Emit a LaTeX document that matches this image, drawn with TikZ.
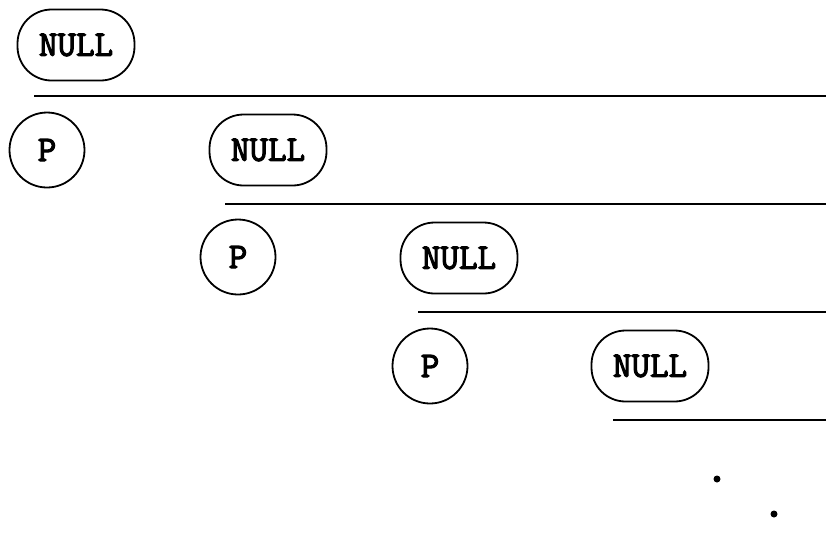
\documentclass[tikz,border=0pt]{standalone}
\usepackage{fontspec}
\newfontfamily\codefont{Latin Modern Mono}[FakeBold=3.2]
\usepackage{tikz}
\usetikzlibrary{positioning}

\tikzset{
  nullbox/.style={draw=black, fill=white, text=black, line width=0.9pt,
    rounded corners=17pt, minimum width=58.5pt, minimum height=35.5pt,
    inner sep=0pt, font=\fontsize{18pt}{20pt}\codefont},
  pnode/.style={circle, draw=black, fill=white, text=black, line width=0.9pt,
    minimum size=37.5pt, inner sep=0pt, font=\fontsize{18pt}{20pt}\codefont},
  rule/.style={line width=0.9pt}
}

\begin{document}
\begin{tikzpicture}[x=0.5pt, y=-0.5pt]
    \useasboundingbox (0,0) rectangle (826,554);

    %first level
    \node (n0) [nullbox] at (76,45) {NULL};%draws first NULL
    \coordinate (a0) at (34,96);
    \coordinate (b0) at (826,96);
    \draw [rule] (a0) -- (b0);%draws first rule

    %second level
    \node (p1) [pnode] at (47,150) {P};%draws P
    \node (n1) [nullbox] at (268,150) {NULL};%draws NULL
    \coordinate (a1) at (225,204);
    \coordinate (b1) at (826,204);
    \draw [rule] (a1) -- (b1);

    %third level
    \node (p2) [pnode] at (238,257) {P};
    \node (n2) [nullbox] at (459,258) {NULL};
    \coordinate (a2) at (418,312);
    \coordinate (b2) at (826,312);
    \draw [rule] (a2) -- (b2);

    %fourth level
    \node (p3) [pnode] at (430,366) {P};
    \node (n3) [nullbox] at (650,366) {NULL};
    \coordinate (a3) at (613,420);
    \coordinate (b3) at (826,420);
    \draw [rule] (a3) -- (b3);

    %dots for the levels below
    \node (d1) [circle, fill=black, inner sep=0pt, minimum size=3.5pt] at (717,479) {};
    \node (d2) [circle, fill=black, inner sep=0pt, minimum size=3.5pt] at (774,514) {};
  \end{tikzpicture}
\end{document}
